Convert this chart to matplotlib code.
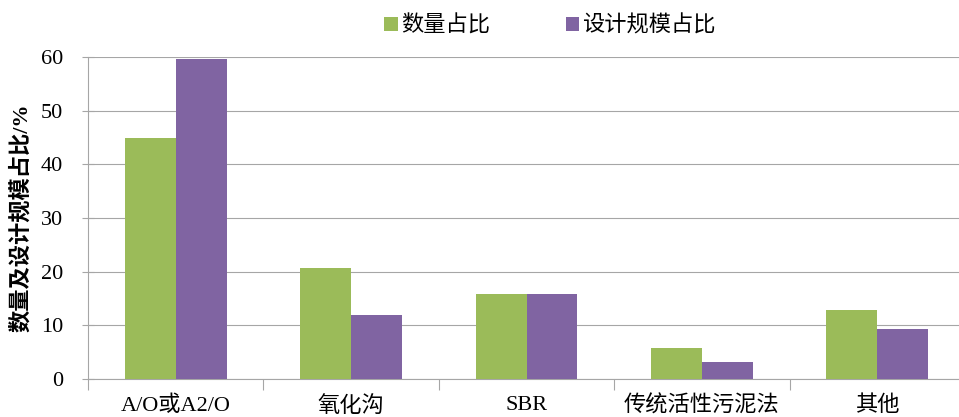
import matplotlib.pyplot as plt
import numpy as np

categories = ['A/O或A2/O', '氧化沟', 'SBR', '传统活性污泥法', '其他']
count_share = [44.9, 20.6, 15.8, 5.7, 12.9]
scale_share = [59.7, 12.0, 15.8, 3.1, 9.4]
series_names = ['数量占比', '设计规模占比']

green = '#9BBB59'
purple = '#8064A2'
grid_c = '#A6A6A6'
fam = ['Liberation Serif', 'Noto Sans CJK SC']

fig = plt.figure(figsize=(9.59, 4.17), dpi=100)
ax = fig.add_axes([88 / 959, 1 - 379 / 417, 877 / 959, 322 / 417])

x = np.arange(len(categories))
w = 0.29
ax.bar(x - w / 2, count_share, w, color=green, label=series_names[0], zorder=3)
ax.bar(x + w / 2, scale_share, w, color=purple, label=series_names[1], zorder=3)

ax.set_xlim(-0.5, len(categories) - 0.5)
ax.set_ylim(0, 60)
ax.set_yticks(range(0, 61, 10))
ax.yaxis.grid(True, color=grid_c, linewidth=0.8, zorder=0)
ax.tick_params(axis='y', length=8, direction='inout', color=grid_c, labelsize=16, pad=14)
for t in ax.get_yticklabels():
    t.set_family(fam)

ax.set_xticks(np.arange(len(categories) + 1) - 0.5)
ax.set_xticklabels([])
ax.set_xticks(x, minor=True)
ax.set_xticklabels(categories, minor=True, family=fam, fontsize=16)
ax.tick_params(axis='x', which='major', length=8, color=grid_c)
ax.tick_params(axis='x', which='minor', length=0, pad=12)

for s in ['top', 'right']:
    ax.spines[s].set_visible(False)
for s in ['left', 'bottom']:
    ax.spines[s].set_color(grid_c)

ax.set_ylabel('数量及设计规模占比/%', family=fam,
              fontsize=16, fontweight='bold', labelpad=6)

fig.legend(loc='center', bbox_to_anchor=(550 / 959, 1 - 25 / 417), ncol=2,
           frameon=False, prop={'family': 'Noto Sans CJK SC', 'size': 16},
           handlelength=0.6, handleheight=0.6, handletextpad=0.15, columnspacing=3.4)

fig.savefig('out.png', dpi=100)
